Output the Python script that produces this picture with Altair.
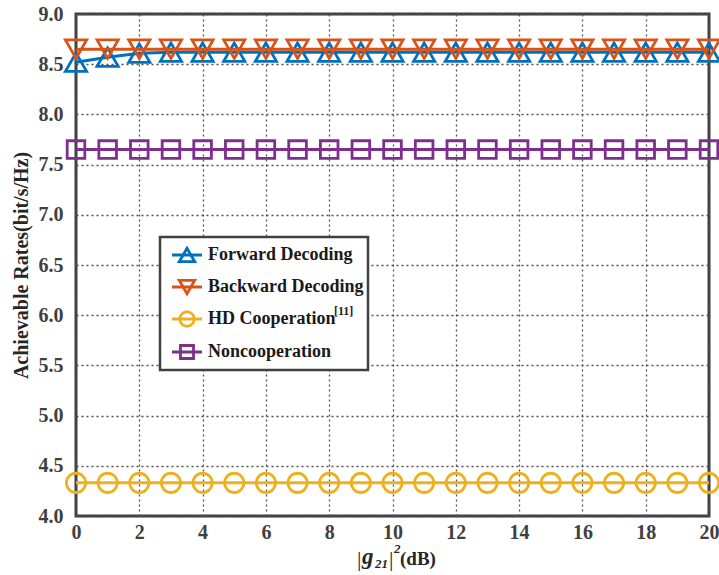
import altair as alt
import pandas as pd

x_vals = list(range(0, 21))
series_names = ["Forward Decoding", "Backward Decoding", "HD Cooperation", "Noncooperation"]
forward = [8.52, 8.57, 8.61, 8.62, 8.62, 8.62, 8.62, 8.62, 8.62, 8.62, 8.62,
           8.62, 8.62, 8.62, 8.62, 8.62, 8.62, 8.62, 8.62, 8.62, 8.62]
backward = [8.65] * 21
hd_coop = [4.33] * 21
noncoop = [7.65] * 21
series_values = [forward, backward, hd_coop, noncoop]
colors = ["#0072BD", "#D95319", "#EDB120", "#7E2F8E"]
shapes = ["triangle-up", "triangle-down", "circle", "square"]
sizes = [450, 450, 370, 310]
x_ticks = list(range(0, 21, 2))
y_ticks = [4.0, 4.5, 5.0, 5.5, 6.0, 6.5, 7.0, 7.5, 8.0, 8.5, 9.0]

FONT = "Liberation Serif"
W, H = 633, 502
L, T = 76, 14

rows = []
for name, vals in zip(series_names, series_values):
    for xv, yv in zip(x_vals, vals):
        rows.append({"x": xv, "y": yv, "series": name})
df = pd.DataFrame(rows)

xs = alt.Scale(domain=[0, 20], nice=False, zero=False)
ys = alt.Scale(domain=[4, 9], nice=False, zero=False)

x_axis = alt.Axis(values=x_ticks, title=None, grid=True, ticks=False, domain=False,
                  labelFont=FONT, labelFontSize=20, labelFontWeight="bold", labelColor="#404040",
                  labelPadding=6, gridColor="#505050", gridDash=[2, 3], gridWidth=1.3,
                  labelFlush=False)
y_axis = alt.Axis(values=y_ticks, format=".1f", title="Achievable Rates(bit/s/Hz)", grid=True,
                  ticks=False, domain=False, labelFont=FONT, labelFontSize=20, labelFontWeight="bold",
                  labelColor="#404040", labelPadding=13, titleFont=FONT, titleFontSize=20,
                  titleFontWeight="bold", titleColor="#262626", titlePadding=7,
                  gridColor="#505050", gridDash=[2, 3], gridWidth=1.3, labelFlush=False)

layers = []
first = True
for name, col, shp, sz in zip(series_names, colors, shapes, sizes):
    sub = df[df.series == name]
    base = alt.Chart(sub)
    if first:
        enc_x = alt.X("x:Q", scale=xs, axis=x_axis)
        enc_y = alt.Y("y:Q", scale=ys, axis=y_axis)
    else:
        enc_x = alt.X("x:Q", scale=xs)
        enc_y = alt.Y("y:Q", scale=ys)
    line = base.mark_line(color=col, strokeWidth=3, clip=False).encode(x=enc_x, y=enc_y)
    pts = base.mark_point(color=col, shape=shp, size=sz, filled=False, strokeWidth=2.8,
                          opacity=1, clip=False).encode(
        x=alt.X("x:Q", scale=xs),
        y=alt.Y("y:Q", scale=ys),
    )
    layers += [line, pts]
    first = False

one = alt.Data(values=[{"a": 1}])


def txt(s, x, y, size, weight="bold", style="normal", color="#262626"):
    return alt.Chart(one).mark_text(align="left", baseline="alphabetic", font=FONT,
                                    fontSize=size, fontWeight=weight, fontStyle=style,
                                    color=color).encode(
        x=alt.value(x - L), y=alt.value(y - T), text=alt.value(s))


# x-axis title: |g21|^2(dB)
layers += [
    txt("|", 357, 566, 22, weight="normal"),
    txt("g", 362, 564, 23, style="italic"),
    txt("21", 375, 568, 13, style="italic"),
    txt("|", 389, 566, 22, weight="normal"),
    txt("2", 394, 553, 13, style="italic"),
    txt("(dB)", 400, 565, 19),
]

# Legend (custom, drawn in pixel space)
box = alt.Chart(one).mark_rect(fill="white", stroke="#404040", strokeWidth=2.5).encode(
    x=alt.value(160 - L), x2=alt.value(368 - L), y=alt.value(237 - T), y2=alt.value(370 - T))
layers.append(box)
leg_y = [255, 287, 319, 352]
leg_sizes = [240, 240, 210, 170]
for name, col, shp, ly, ls in zip(series_names, colors, shapes, leg_y, leg_sizes):
    yy = ly - T
    rule = alt.Chart(one).mark_rule(color=col, strokeWidth=3).encode(
        x=alt.value(172 - L), x2=alt.value(202 - L), y=alt.value(yy))
    pt = alt.Chart(one).mark_point(color=col, shape=shp, size=ls, filled=False, strokeWidth=2.8,
                                   opacity=1).encode(x=alt.value(187 - L), y=alt.value(yy))
    t = alt.Chart(one).mark_text(align="left", baseline="middle", font=FONT, fontSize=18,
                                 fontWeight="bold", color="#1a1a1a").encode(
        x=alt.value(208 - L), y=alt.value(yy), text=alt.value(name))
    layers += [rule, pt, t]
sup = alt.Chart(one).mark_text(align="left", baseline="middle", font=FONT, fontSize=12,
                               fontWeight="bold", color="#1a1a1a").encode(
    x=alt.value(334 - L), y=alt.value(leg_y[2] - T - 8), text=alt.value("[11]"))
layers.append(sup)

chart = alt.layer(*layers).properties(
    width=W, height=H,
    autosize=alt.AutoSizeParams(type="none"),
    padding={"left": L, "top": T, "right": 10, "bottom": 59},
    background="white",
).configure_view(stroke="#404040", strokeWidth=3)

chart.save("out.html", embed_options={"renderer": "svg", "actions": False})
